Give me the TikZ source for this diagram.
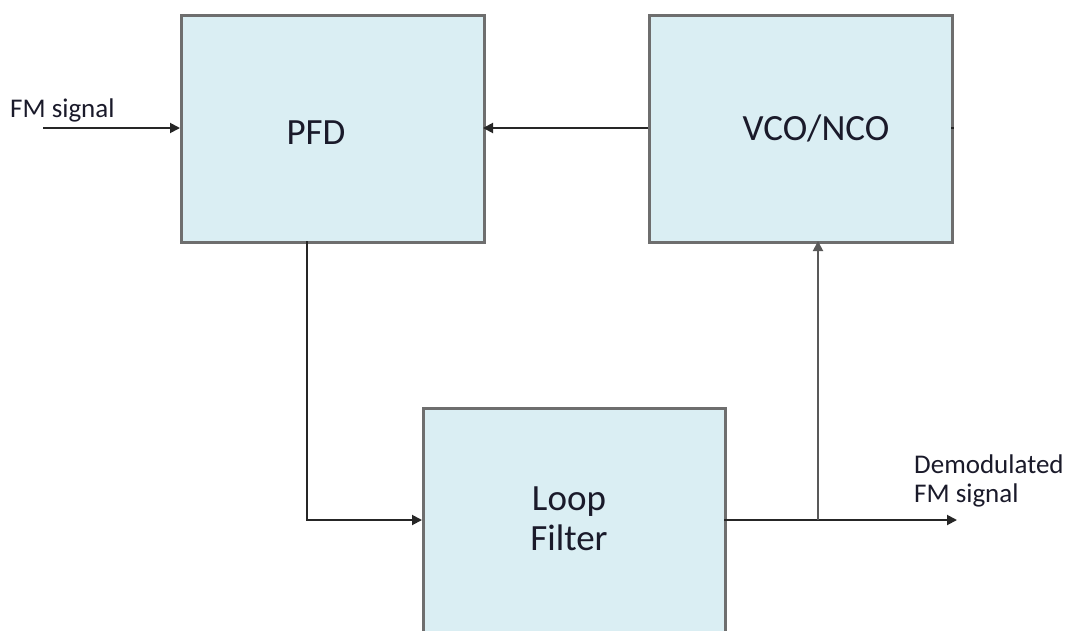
\documentclass[tikz,border=0pt]{standalone}
\usepackage{fontspec}
\setmainfont{Carlito}
\usetikzlibrary{arrows.meta}
\definecolor{boxfill}{HTML}{DAEEF3}
\definecolor{boxline}{HTML}{6E6E6E}
\definecolor{labeltext}{HTML}{1A1A2A}
\begin{document}
\begin{tikzpicture}[x=1pt,y=-1pt,
  block/.style={draw=boxline,fill=boxfill,line width=2.6pt,inner sep=0pt,anchor=north west},
  wire/.style={line width=1.9pt,draw=black!85},
  tip/.style={-{Triangle[length=10pt,width=10pt]}},
  big/.style={font=\fontsize{37}{42}\selectfont,text=labeltext,align=center,inner sep=0pt},
  small/.style={font=\fontsize{27}{29}\selectfont,text=labeltext,align=left,inner sep=0pt}]
  \clip (0,0) rectangle (1066,630);
  \useasboundingbox (0,0) rectangle (1066,630);
  % blocks
  \node[block,minimum width=303pt,minimum height=227pt] (pfd) at (180,14) {};
  \node[block,minimum width=303pt,minimum height=227pt] (vco) at (648,14) {};
  \node[block,minimum width=302pt,minimum height=300pt] (lf) at (422,407) {};
  % block captions
  \node[big] (pfdtxt) at (316,133) {PFD};
  \node[big] (vcotxt) at (816,128) {VCO/NCO};
  \node[big] (lftxt) at (569,519) {Loop\\[-2pt]Filter};
  % input and output labels
  \node[small,anchor=west] (fmin) at (10,110) {FM signal};
  \node[small,anchor=north west] (fmout) at (914,455) {Demodulated\\FM signal};
  % junction points
  \coordinate (in) at (43,128);
  \coordinate (pfdbot) at (307,241);
  \coordinate (pfdturn) at (307,520);
  \coordinate (lfout) at (724,520);
  \coordinate (branch) at (818,520);
  \coordinate (vcobot) at (818,241);
  \coordinate (out) at (957,520);
  \coordinate (vcoleft) at (648,128);
  \coordinate (pfdright) at (483,128);
  \coordinate (vcoright) at (951,128);
  \coordinate (stub) at (954,128);
  % connectors
  \draw[wire,tip] (in) -- (in -| pfd.west);
  \draw[wire,tip] (vcoleft) -- (pfdright);
  \draw[wire] (vcoright) -- (stub);
  \draw[wire,tip] (pfdbot) -- (pfdturn) -- (pfdturn -| lf.west);
  \draw[wire,tip] (lfout) -- (out);
  \draw[wire,tip,draw=black!65] (branch) -- (vcobot);
\end{tikzpicture}
\end{document}
